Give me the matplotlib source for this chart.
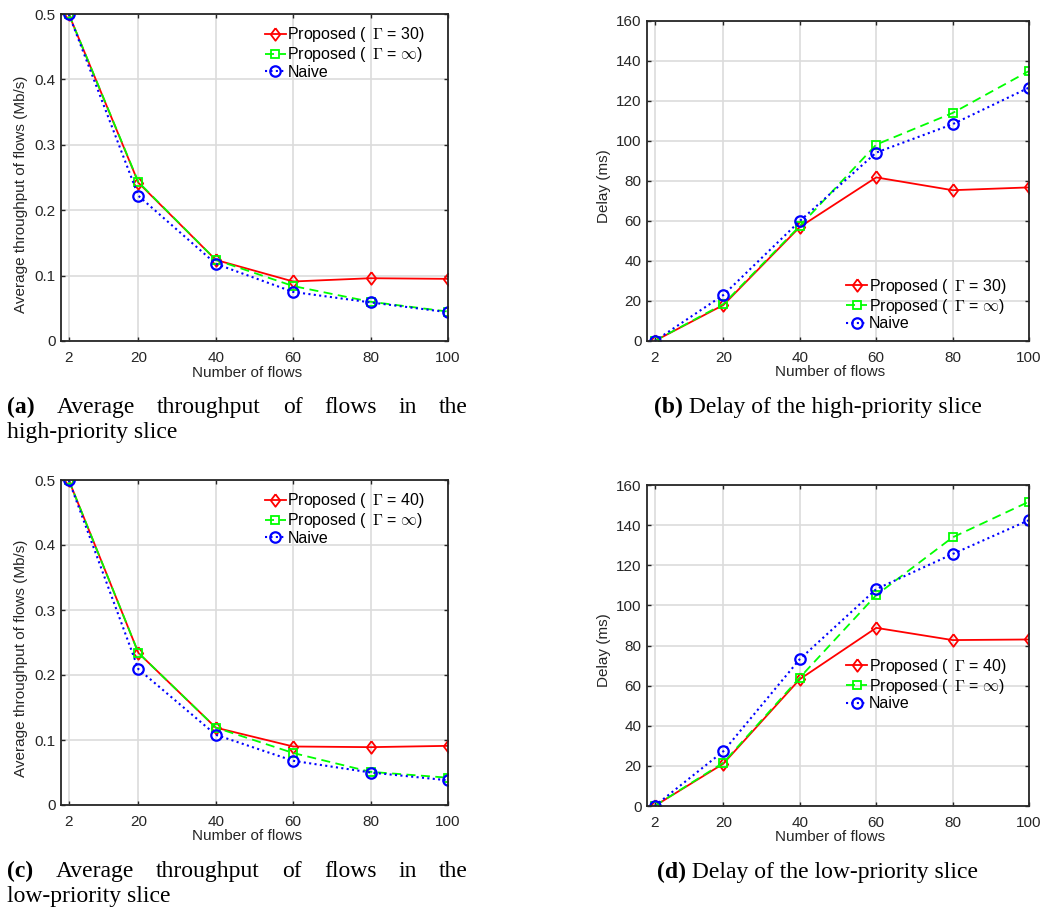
import numpy as np
import matplotlib
matplotlib.use('Agg')
import matplotlib.pyplot as plt

plt.rcParams['font.family'] = ['Liberation Sans', 'DejaVu Sans']
plt.rcParams['mathtext.fontset'] = 'cm'

W, H = 1041, 911
TXT = '#262626'
SERIF = 'Liberation Serif'

flows = [2, 20, 40, 60, 80, 100]

# (a) throughput, high-priority slice
thr_hi_prop = [0.500, 0.242, 0.124, 0.091, 0.096, 0.095]
thr_hi_inf = [0.500, 0.243, 0.124, 0.084, 0.060, 0.045]
thr_hi_naive = [0.500, 0.222, 0.118, 0.075, 0.059, 0.044]

# (b) delay, high-priority slice
delay_hi_prop = [0.0, 18.0, 57.0, 81.8, 75.4, 76.8]
delay_hi_inf = [0.0, 18.5, 57.5, 98.2, 114.0, 135.0]
delay_hi_naive = [0.0, 23.0, 60.0, 94.2, 108.4, 126.7]

# (c) throughput, low-priority slice
thr_lo_prop = [0.500, 0.234, 0.119, 0.090, 0.089, 0.091]
thr_lo_inf = [0.500, 0.234, 0.119, 0.080, 0.051, 0.042]
thr_lo_naive = [0.500, 0.209, 0.108, 0.068, 0.050, 0.038]

# (d) delay, low-priority slice
delay_lo_prop = [0.0, 21.1, 63.2, 88.8, 82.7, 83.0]
delay_lo_inf = [0.0, 21.6, 64.0, 105.1, 133.9, 151.7]
delay_lo_naive = [0.0, 27.3, 73.2, 108.1, 125.6, 142.5]

gamma_hi = 30
gamma_lo = 40

thr_ticks = [0, 0.1, 0.2, 0.3, 0.4, 0.5]
delay_ticks = [0, 20, 40, 60, 80, 100, 120, 140, 160]

# matlab-style diamond (a bit taller than wide)
DIAMOND = [(0, 1), (0.75, 0), (0, -1), (-0.75, 0), (0, 1)]


def px_axes(l, t, r, b):
    return [l / W, 1 - b / H, (r - l) / W, (b - t) / H]


fig = plt.figure(figsize=(W / 100, H / 100), dpi=100)


def panel(rect, prop, inf, naive, gamma, ylabel, yticks, ytl, ymax,
          loc, anchor, ylab_xy, xlab_xy):
    ax = fig.add_axes(px_axes(*rect))
    ax.plot(flows, prop, color='red', ls='-', lw=1.3, marker=DIAMOND, ms=9,
            mfc='none', mec='red', mew=1.3,
            label=r'Proposed ( $\,\Gamma$ = %d)' % gamma)
    ax.plot(flows, inf, color='#00ff00', ls=(0, (5, 3)), lw=1.3, marker='s',
            ms=6, mfc='none', mec='#00ff00', mew=1.3,
            label=r'Proposed ( $\,\Gamma$ = $\infty$)')
    ax.plot(flows, naive, color='blue', ls=(0, (1, 1.6)), lw=1.5, marker='o',
            ms=7.5, mfc='none', mec='blue', mew=1.6, label='Naive')
    ax.set_xlim(0, 100)
    ax.set_ylim(0, ymax)
    ax.set_xticks(flows)
    ax.set_yticks(yticks)
    ax.set_yticklabels(ytl)
    ax.grid(True, color='#dcdcdc', lw=1.2)
    ax.set_axisbelow(True)
    for s in ax.spines.values():
        s.set_color(TXT)
        s.set_linewidth(1.3)
    ax.tick_params(direction='in', top=True, right=True, length=3,
                   width=1.0, colors=TXT, labelsize=11)
    ax.tick_params(axis='x', pad=7)
    ax.tick_params(axis='y', pad=4)
    ax.set_ylabel(ylabel, fontsize=11, color=TXT)
    ax.yaxis.set_label_coords(*ylab_xy)
    ax.set_xlabel('Number of flows', fontsize=11, color=TXT)
    ax.xaxis.set_label_coords(*xlab_xy)
    ax.legend(loc=loc, bbox_to_anchor=anchor, frameon=False, fontsize=11.5,
              borderpad=0, labelspacing=0.05, handlelength=1.3,
              handletextpad=0.1, borderaxespad=0)
    return ax


thr_tl = ['0', '0.1', '0.2', '0.3', '0.4', '0.5']
del_tl = [str(v) for v in delay_ticks]

panel((61, 14, 448, 341), thr_hi_prop, thr_hi_inf, thr_hi_naive, gamma_hi,
      'Average throughput of flows (Mb/s)', thr_ticks, thr_tl, 0.5,
      'upper right', (0.94, 0.965), (-0.085, 0.45), (0.48, -0.075))
panel((647, 21, 1029, 341), delay_hi_prop, delay_hi_inf, delay_hi_naive,
      gamma_hi, 'Delay (ms)', delay_ticks, del_tl, 160,
      'lower right', (0.94, 0.03), (-0.095, 0.485), (0.48, -0.075))
panel((61, 480, 448, 805), thr_lo_prop, thr_lo_inf, thr_lo_naive, gamma_lo,
      'Average throughput of flows (Mb/s)', thr_ticks, thr_tl, 0.5,
      'upper right', (0.94, 0.965), (-0.085, 0.45), (0.48, -0.075))
panel((647, 485, 1029, 806), delay_lo_prop, delay_lo_inf, delay_lo_naive,
      gamma_lo, 'Delay (ms)', delay_ticks, del_tl, 160,
      'upper right', (0.94, 0.465), (-0.095, 0.485), (0.48, -0.075))

renderer = fig.canvas.get_renderer()
CS = 17


def justified(x0, x1, ybase, words):
    ts = []
    for i, w in enumerate(words):
        ts.append(fig.text(0, 1 - ybase / H, w, fontfamily=SERIF, fontsize=CS,
                           fontweight='bold' if i == 0 else 'normal',
                           va='baseline', ha='left', color='black'))
    widths = [t.get_window_extent(renderer).width for t in ts]
    gap = (x1 - x0 - sum(widths)) / (len(ts) - 1)
    x = x0
    for t, wd in zip(ts, widths):
        t.set_x(x / W)
        x += wd + gap


def centered(xc, ybase, tag, rest):
    t1 = fig.text(0, 1 - ybase / H, tag, fontfamily=SERIF, fontsize=CS,
                  fontweight='bold', va='baseline', ha='left')
    t2 = fig.text(0, 1 - ybase / H, ' ' + rest, fontfamily=SERIF, fontsize=CS,
                  va='baseline', ha='left')
    w1 = t1.get_window_extent(renderer).width
    w2 = t2.get_window_extent(renderer).width
    x0 = xc - (w1 + w2) / 2
    t1.set_x(x0 / W)
    t2.set_x((x0 + w1) / W)


line1 = ['(a)', 'Average', 'throughput', 'of', 'flows', 'in', 'the']
justified(7, 468, 413, line1)
fig.text(7 / W, 1 - 438 / H, 'high-priority slice', fontfamily=SERIF,
         fontsize=CS, va='baseline', ha='left')
centered(818, 413, '(b)', 'Delay of the high-priority slice')

line1c = ['(c)', 'Average', 'throughput', 'of', 'flows', 'in', 'the']
justified(7, 468, 877, line1c)
fig.text(7 / W, 1 - 902 / H, 'low-priority slice', fontfamily=SERIF,
         fontsize=CS, va='baseline', ha='left')
centered(818, 878, '(d)', 'Delay of the low-priority slice')

fig.savefig('out.png', dpi=100)
